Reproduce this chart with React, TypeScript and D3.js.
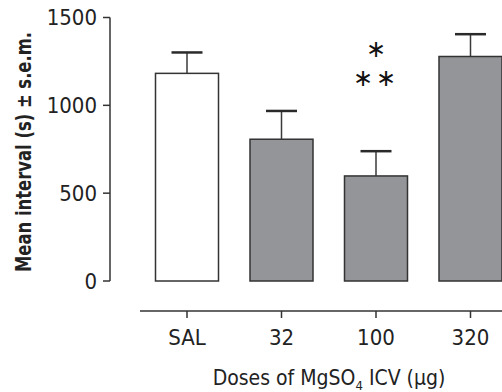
import React from 'react';
import { scaleLinear, scalePoint } from 'd3';

const groups = ['SAL', '32', '100', '320'];
const means = [1182, 807, 598, 1278];
const sems = [119, 161, 141, 127];
const yTicks = [0, 500, 1000, 1500];

const W = 502;
const H = 392;
const FONT = '"Liberation Sans Narrow", "DejaVu Sans Condensed", "Arial Narrow", sans-serif';

export default function App() {
  const y = scaleLinear().domain([0, 1500]).range([281, 17.5]);
  const x = scalePoint().domain(groups).range([187, 470.5]);
  const barW = 63;
  const axisX = 110;
  const baseY = 311;

  return (
    <svg width={W} height={H} style={{ position: 'absolute', left: 0, top: 0, background: '#fff' }}>
      {/* y axis */}
      <line x1={axisX} x2={axisX} y1={y(1500)} y2={y(0)} stroke="#333" strokeWidth={1.5} />
      {yTicks.map((t) => (
        <g key={t}>
          <line x1={axisX - 7} x2={axisX} y1={y(t)} y2={y(t)} stroke="#333" strokeWidth={1.5} />
          <text
            x={axisX - 13}
            y={y(t)}
            dy="0.36em"
            textAnchor="end"
            fontFamily={FONT}
            fontSize={22}
            fill="#222"
          >
            {t}
          </text>
        </g>
      ))}
      <text
        transform={`translate(31,152) rotate(-90) scale(0.83,1)`}
        textAnchor="middle"
        fontFamily={FONT}
        fontWeight="bold"
        fontSize={22}
        fill="#222"
      >
        Mean interval (s) ± s.e.m.
      </text>

      {/* bars + error bars */}
      {groups.map((g, i) => {
        const cx = x(g) as number;
        const top = y(means[i] + sems[i]);
        return (
          <g key={g}>
            <line x1={cx} x2={cx} y1={y(means[i])} y2={top} stroke="#3a3a3a" strokeWidth={1.5} />
            <line x1={cx - 15.5} x2={cx + 15.5} y1={top} y2={top} stroke="#2a2a2a" strokeWidth={2.5} />
            <rect
              x={cx - barW / 2}
              y={y(means[i])}
              width={barW}
              height={y(0) - y(means[i])}
              fill={i === 0 ? '#fff' : '#939598'}
              stroke="#333"
              strokeWidth={1.5}
            />
          </g>
        );
      })}

      {/* significance marks */}
      <text x={x('100') as number} y={57} textAnchor="middle" fontFamily="DejaVu Sans" fontSize={24} fill="#111">
        ∗
      </text>
      <text x={x('100') as number} y={86} textAnchor="middle" fontFamily="DejaVu Sans" fontSize={24} fill="#111" letterSpacing={3}>
        ∗∗
      </text>

      {/* x axis */}
      <line x1={140} x2={W + 10} y1={baseY} y2={baseY} stroke="#333" strokeWidth={1.5} />
      {groups.map((g) => (
        <g key={g}>
          <line x1={x(g) as number} x2={x(g) as number} y1={baseY} y2={baseY + 7} stroke="#333" strokeWidth={1.5} />
          <text
            x={x(g) as number}
            y={345}
            textAnchor="middle"
            fontFamily={FONT}
            fontSize={22}
            fill="#222"
          >
            {g}
          </text>
        </g>
      ))}
      <text x={329} y={385} textAnchor="middle" fontFamily={FONT} fontSize={21} fill="#222">
        Doses of MgSO
        <tspan fontSize={13} dy={5}>4</tspan>
        <tspan dy={-5}> ICV (µg)</tspan>
      </text>
    </svg>
  );
}
